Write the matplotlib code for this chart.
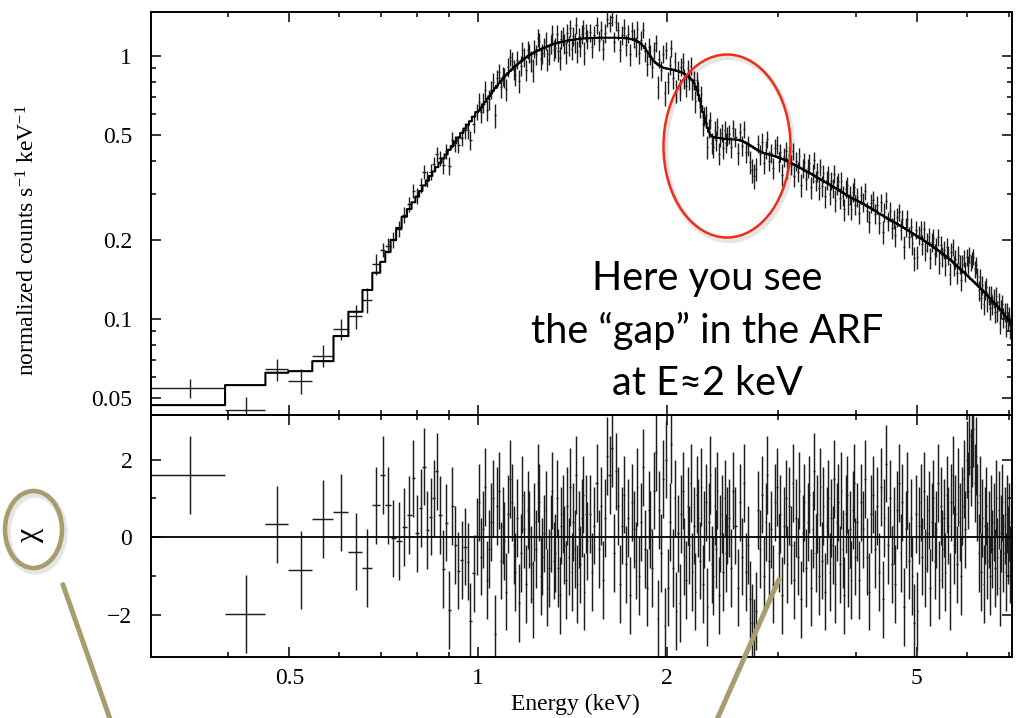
import numpy as np
import matplotlib
matplotlib.use('Agg')
import matplotlib.pyplot as plt
from matplotlib.patches import Ellipse, FancyArrowPatch
from matplotlib.ticker import FixedLocator, FixedFormatter, NullFormatter

W, H = 1016, 718  # figure size in pixels (dpi 100)

# --- low energy bins (wide, below 1 keV): edges, model and residuals ---
low_edges = [0.300, 0.395, 0.458, 0.498, 0.544, 0.588, 0.621, 0.654, 0.678, 0.698,
             0.711, 0.725, 0.740, 0.755, 0.770, 0.783, 0.794, 0.805, 0.815, 0.825,
             0.835, 0.845, 0.854, 0.864, 0.874, 0.884, 0.894, 0.904, 0.914, 0.924,
             0.936, 0.947, 0.958, 0.967, 0.977, 0.989, 1.000]
low_model = [0.0471, 0.0561, 0.0625, 0.0634, 0.0692, 0.0862, 0.1066, 0.129, 0.150, 0.165,
             0.180, 0.200, 0.222, 0.245, 0.262, 0.278, 0.292, 0.307, 0.322, 0.336,
             0.350, 0.364, 0.378, 0.393, 0.408, 0.423, 0.440, 0.455, 0.472, 0.490,
             0.510, 0.530, 0.548, 0.565, 0.588, 0.612]
low_chi = [1.60, -1.98, 0.33, -0.84, 0.47, 0.64, -0.37, -0.80, 0.82, 1.60,
           0.82, -0.03, -0.09, 0.26, 0.58, 1.52, 0.10, 0.75, 1.82, 0.19,
           0.53, 1.00, 1.70, 0.58, -0.82, 0.38, -1.87, 0.81, -0.20, -0.86,
           -0.58, -0.24, -0.63, -2.17, -0.93, 0.02]
rel_err_wide = 0.10    # relative error of the widest bins (< 0.7 keV)
rel_err_mid = 0.07     # 0.7 - 1 keV
rel_err_dense = 0.085  # above 1 keV

# --- dense bins above 1 keV (centres, model, residuals) ---
hi_E = [1.004, 1.011, 1.019, 1.026, 1.034, 1.041, 1.049, 1.056, 1.064, 1.071,
        1.079, 1.086, 1.094, 1.101, 1.109, 1.116, 1.124, 1.131, 1.139, 1.146,
        1.154, 1.161, 1.169, 1.176, 1.184, 1.191, 1.199, 1.206, 1.214, 1.221,
        1.229, 1.236, 1.244, 1.251, 1.259, 1.266, 1.274, 1.281, 1.289, 1.296,
        1.304, 1.311, 1.319, 1.326, 1.334, 1.341, 1.349, 1.356, 1.364, 1.371,
        1.379, 1.386, 1.394, 1.401, 1.409, 1.416, 1.424, 1.431, 1.439, 1.446,
        1.454, 1.461, 1.469, 1.476, 1.484, 1.491,
        1.506, 1.519, 1.531, 1.544, 1.556, 1.569, 1.581, 1.594, 1.606, 1.619,
        1.631, 1.644, 1.656, 1.669, 1.681, 1.694, 1.706, 1.719, 1.731, 1.744,
        1.756, 1.769, 1.781, 1.794, 1.806, 1.819, 1.831, 1.844, 1.856, 1.869,
        1.881, 1.894, 1.906, 1.919, 1.931, 1.944, 1.956, 1.969, 1.981, 1.994,
        2.006, 2.019, 2.031, 2.044, 2.056, 2.069, 2.081, 2.094, 2.106, 2.119,
        2.131, 2.144, 2.156, 2.169, 2.181, 2.194, 2.206, 2.219, 2.231, 2.244,
        2.256, 2.269, 2.281, 2.294, 2.306, 2.319, 2.331, 2.344, 2.356, 2.369,
        2.381, 2.394, 2.406, 2.419, 2.431, 2.444, 2.456, 2.469, 2.481, 2.494,
        2.51, 2.53, 2.55, 2.57, 2.59, 2.61, 2.63, 2.65, 2.67, 2.69,
        2.71, 2.73, 2.75, 2.77, 2.79, 2.81, 2.83, 2.85, 2.87, 2.89,
        2.91, 2.93, 2.95, 2.97, 2.99, 3.01, 3.03, 3.05, 3.07, 3.09,
        3.11, 3.13, 3.15, 3.17, 3.19, 3.21, 3.23, 3.25, 3.27, 3.29,
        3.31, 3.33, 3.35, 3.37, 3.39, 3.41, 3.43, 3.45, 3.47, 3.49,
        3.51, 3.53, 3.55, 3.57, 3.59, 3.61, 3.63, 3.65, 3.67, 3.69,
        3.71, 3.73, 3.75, 3.77, 3.79, 3.81, 3.83, 3.85, 3.87, 3.89,
        3.91, 3.93, 3.95, 3.97, 3.99,
        4.02, 4.05, 4.08, 4.11, 4.14, 4.17, 4.20, 4.23, 4.26, 4.29,
        4.32, 4.35, 4.38, 4.41, 4.44, 4.47, 4.50, 4.53, 4.56, 4.59,
        4.62, 4.65, 4.68, 4.71, 4.74, 4.77, 4.80, 4.83, 4.86, 4.89,
        4.92, 4.95, 4.98, 5.01, 5.04, 5.07, 5.10, 5.13, 5.16, 5.19,
        5.22, 5.25, 5.28, 5.31, 5.34, 5.37, 5.40, 5.43, 5.46, 5.49,
        5.52, 5.55, 5.58, 5.61, 5.64, 5.67, 5.70, 5.73, 5.76, 5.79,
        5.82, 5.85, 5.88, 5.91, 5.94, 5.97, 6.00, 6.03, 6.06, 6.09,
        6.12, 6.15, 6.18, 6.21, 6.24, 6.27, 6.30, 6.33, 6.36, 6.39,
        6.42, 6.45, 6.48, 6.51, 6.54, 6.57, 6.60, 6.63, 6.66, 6.69,
        6.72, 6.75, 6.78, 6.81, 6.84, 6.87, 6.90, 6.93, 6.96, 6.99,
        7.02, 7.05, 7.08]
hi_model = [0.621, 0.637, 0.654, 0.670, 0.688, 0.703, 0.721, 0.737, 0.755, 0.770,
            0.787, 0.803, 0.820, 0.835, 0.849, 0.862, 0.877, 0.890, 0.904, 0.916,
            0.929, 0.940, 0.952, 0.963, 0.975, 0.986, 0.997, 1.007, 1.016, 1.024,
            1.032, 1.040, 1.048, 1.055, 1.062, 1.069, 1.075, 1.081, 1.087, 1.093,
            1.100, 1.105, 1.110, 1.114, 1.119, 1.123, 1.127, 1.131, 1.134, 1.137,
            1.140, 1.143, 1.146, 1.149, 1.151, 1.153, 1.155, 1.157, 1.159, 1.160,
            1.162, 1.163, 1.165, 1.166, 1.168, 1.169,
            1.170, 1.171, 1.172, 1.173, 1.174, 1.175, 1.175, 1.175, 1.175, 1.175,
            1.175, 1.175, 1.174, 1.173, 1.172, 1.171, 1.170, 1.168, 1.166, 1.162,
            1.158, 1.153, 1.145, 1.136, 1.125, 1.110, 1.092, 1.070, 1.045, 1.020,
            0.995, 0.972, 0.955, 0.942, 0.930, 0.920, 0.912, 0.905, 0.900, 0.897,
            0.894, 0.892, 0.889, 0.886, 0.883, 0.879, 0.876, 0.872, 0.868, 0.862,
            0.855, 0.848, 0.840, 0.830, 0.820, 0.808, 0.790, 0.765, 0.740, 0.710,
            0.675, 0.645, 0.612, 0.582, 0.556, 0.533, 0.515, 0.502, 0.495, 0.492,
            0.490, 0.490, 0.489, 0.488, 0.487, 0.486, 0.485, 0.484, 0.484, 0.483,
            0.483, 0.482, 0.482, 0.481, 0.480, 0.478, 0.476, 0.472, 0.468, 0.463,
            0.458, 0.453, 0.448, 0.443, 0.438, 0.434, 0.431, 0.428, 0.426, 0.424,
            0.422, 0.420, 0.418, 0.416, 0.414, 0.411, 0.409, 0.406, 0.404, 0.401,
            0.398, 0.395, 0.392, 0.389, 0.386, 0.383, 0.380, 0.377, 0.374, 0.371,
            0.368, 0.365, 0.362, 0.359, 0.357, 0.354, 0.351, 0.348, 0.345, 0.343,
            0.340, 0.337, 0.335, 0.332, 0.330, 0.327, 0.325, 0.322, 0.320, 0.317,
            0.315, 0.312, 0.310, 0.307, 0.305, 0.302, 0.300, 0.298, 0.295, 0.293,
            0.291, 0.289, 0.287, 0.285, 0.284,
            0.282, 0.279, 0.276, 0.274, 0.271, 0.268, 0.266, 0.263, 0.260, 0.258,
            0.255, 0.252, 0.250, 0.248, 0.245, 0.243, 0.240, 0.238, 0.236, 0.234,
            0.232, 0.230, 0.228, 0.226, 0.224, 0.222, 0.220, 0.218, 0.216, 0.214,
            0.212, 0.210, 0.208, 0.206, 0.204, 0.203, 0.201, 0.199, 0.197, 0.195,
            0.194, 0.192, 0.190, 0.188, 0.186, 0.185, 0.183, 0.181, 0.179, 0.178,
            0.176, 0.174, 0.172, 0.170, 0.169, 0.167, 0.165, 0.163, 0.161, 0.159,
            0.158, 0.156, 0.154, 0.152, 0.151, 0.149, 0.147, 0.146, 0.144, 0.142,
            0.141, 0.139, 0.138, 0.136, 0.135, 0.133, 0.132, 0.130, 0.129, 0.127,
            0.126, 0.124, 0.123, 0.121, 0.120, 0.118, 0.117, 0.116, 0.114, 0.113,
            0.112, 0.110, 0.109, 0.108, 0.106, 0.105, 0.104, 0.102, 0.101, 0.100,
            0.099, 0.098, 0.097]
hi_chi = [0.9, -0.5, 0.2, 1.3, -1.1, -0.3, 0.4, 1.0, -2.5, 0.8,
          1.2, -0.6, 0.3, -0.1, -1.4, 0.6, 1.5, 0.9, -0.2, -0.9,
          0.5, -1.7, -0.4, 1.1, 0.2, -1.2, 0.7, 0.2, -0.7, -1.6,
          0.4, -0.3, 1.4, 0.9, -1.0, -0.5, 0.1, 0.7, -1.3, -0.8,
          0.1, 1.2, -0.6, -0.4, 1.0, -0.8, -1.5, 0.3, 0.6, -0.2,
          -1.1, 0.8, -0.5, 1.3, -0.9, 0.4, -0.3, 1.6, -1.2, 0.2,
          -0.7, 0.5, 1.1, -1.4, 0.6, -0.1,
          0.6, -0.9, 0.3, 1.4, -0.3, 0.8, -1.1, 0.5, 2.1, 1.6,
          2.3, -0.4, 1.7, 0.8, -1.2, 0.3, 1.1, -0.7, 0.5, -1.5,
          0.9, 0.2, -0.6, 1.3, -1.0, 0.4, 1.8, -0.3, -1.3, 0.7,
          0.2, -0.8, 1.2, 2.2, -2.1, 0.7, -0.4, 1.5, -2.3, 2.0,
          -1.3, 0.4, 2.4, -0.8, 1.0, -1.9, 0.1, -1.7, 0.6, 1.2,
          -0.5, -1.1, 0.8, -0.2, 1.4, -0.9, 0.3, -1.4, 1.1, 0.5,
          -0.6, 1.3, -1.2, 0.2, 0.9, -1.8, 0.4, 1.6, -0.7, -1.0,
          0.8, -0.3, 1.2, -1.5, 0.1, 0.6, -0.9, 1.0, -0.4, 0.3,
          0.5, -0.8, 1.2, 0.3, -1.3, 0.9, -0.5, 1.4, -0.9, -0.2,
          -1.6, -2.2, -2.6, -1.9, 0.7, -0.3, 1.1, -1.0, 0.4, 1.6,
          -0.6, 0.2, -1.2, 0.9, 1.3, -0.4, 0.6, -1.5, 0.3, 1.0,
          -0.7, 0.8, -0.2, 1.4, -1.1, 0.5, -0.5, 1.2, -1.6, 0.1,
          0.9, -0.8, 0.4, 1.1, -1.3, 0.2, 1.7, -0.4, 0.6, -1.0,
          1.3, -0.6, 0.8, -1.4, 0.3, 1.0, -0.9, 0.5, -0.2, 1.5,
          -1.2, 0.4, 0.9, -0.7, 1.2, -0.3, -1.5, 0.6, 1.1, -0.8,
          0.2, -1.1, 0.7, 1.4, -0.5,
          0.4, -1.1, 0.9, 0.2, 1.5, -0.5, -1.4, 0.6, 1.1, -0.3,
          0.8, -0.9, 1.3, -1.6, 0.5, 1.9, -0.2, 1.0, -0.7, 0.3,
          -1.2, 0.7, 1.4, -0.4, 0.9, -1.8, 0.2, 1.2, -0.6, 0.5,
          -1.0, -2.2, 0.6, -1.9, 0.3, 0.9, -0.5, 1.2, -0.8, 0.1,
          0.7, -1.3, 0.4, 1.0, -0.6, 0.2, 1.4, -1.1, 0.8, -0.3,
          0.5, -0.9, 1.1, 0.3, -1.4, 0.9, 1.6, -0.2, 0.6, -0.7,
          1.3, 0.4, -1.0, 0.8, 1.5, 0.2, 2.0, 1.2, 2.6, 1.8,
          2.3, 2.8, 1.4, 2.1, 0.9, -0.4, 1.1, -0.9, 0.5, -1.2,
          0.3, 0.8, -0.6, 0.2, -1.0, 0.6, -0.3, 0.4, -0.8, 1.0,
          -0.5, 0.7, -1.3, 0.1, 0.9, -0.4, 0.3, -0.9, 0.6, -0.2,
          0.4, -0.7, 0.2]

x_major = [0.5, 1, 2, 5]
x_minor = [0.4, 0.6, 0.7, 0.8, 0.9, 3, 4, 6, 7]
y_major = [0.05, 0.1, 0.2, 0.5, 1]
y_minor = [0.06, 0.07, 0.08, 0.09, 0.3, 0.4, 0.6, 0.7, 0.8, 0.9]
r_major = [-2, 0, 2]
r_minor = [-1, 1]

# --- put the bins together ---
low_edges = np.array(low_edges)
low_E = (low_edges[:-1] + low_edges[1:]) / 2
low_dE = (low_edges[1:] - low_edges[:-1]) / 2
hi_E = np.array(hi_E)
hi_edges = np.concatenate([[low_edges[-1]], (hi_E[:-1] + hi_E[1:]) / 2,
                           [hi_E[-1] + (hi_E[-1] - hi_E[-2]) / 2]])
hi_dE = (hi_edges[1:] - hi_edges[:-1]) / 2

E = np.concatenate([low_E, hi_E])
dE = np.concatenate([low_dE, hi_dE])
model = np.concatenate([low_model, hi_model])
chi = np.concatenate([low_chi, hi_chi])
rel = np.concatenate([np.where(low_E < 0.7, rel_err_wide, rel_err_mid),
                      np.full(len(hi_E), rel_err_dense)])
sigma = rel * model
data = model + chi * sigma

# --- fonts ---
plt.rcParams['font.family'] = ['Liberation Serif', 'DejaVu Serif']
plt.rcParams['mathtext.fontset'] = 'custom'
plt.rcParams['mathtext.rm'] = 'Liberation Serif'
plt.rcParams['mathtext.it'] = 'Liberation Serif:italic'
plt.rcParams['axes.linewidth'] = 1.4

fig = plt.figure(figsize=(W / 100, H / 100), dpi=100)
fig.patch.set_facecolor('white')

left, right = 151, 1012
top1, mid, bot2 = 12, 414.7, 656.7
ax1 = fig.add_axes([left / W, 1 - mid / H, (right - left) / W, (mid - top1) / H])
ax2 = fig.add_axes([left / W, 1 - bot2 / H, (right - left) / W, (bot2 - mid) / H])

# spectrum + model
ax1.errorbar(E, data, xerr=dE, yerr=sigma, fmt='none', ecolor='#1e1e1e',
             elinewidth=1.0, capsize=0, zorder=2)
step_x = np.column_stack([E - dE, E + dE]).ravel()
step_y = np.repeat(model, 2)
ax1.plot(step_x, step_y, color='black', lw=1.5, zorder=3)

# residuals
ax2.errorbar(E, chi, xerr=dE, yerr=np.ones_like(chi), fmt='none', ecolor='#1e1e1e',
             elinewidth=1.05, capsize=0, zorder=2)
ax2.axhline(0, color='black', lw=1.3, zorder=3)

for ax in (ax1, ax2):
    ax.set_xscale('log')
    ax.set_xlim(0.301, 7.09)
    ax.xaxis.set_major_locator(FixedLocator(x_major))
    ax.xaxis.set_minor_locator(FixedLocator(x_minor))
    ax.xaxis.set_minor_formatter(NullFormatter())
    ax.tick_params(which='both', direction='in', top=True, right=True, labelsize=17)
    ax.tick_params(which='major', length=7.5, width=1.1)
    ax.tick_params(which='minor', length=3.8, width=1.1)
    ax.tick_params(axis='y', pad=13.5)
    ax.tick_params(axis='x', pad=8)

ax1.set_yscale('log')
ax1.set_ylim(0.0433, 1.47)
ax1.yaxis.set_major_locator(FixedLocator(y_major))
ax1.yaxis.set_major_formatter(FixedFormatter(['0.05', '0.1', '0.2', '0.5', '1']))
ax1.yaxis.set_minor_locator(FixedLocator(y_minor))
ax1.yaxis.set_minor_formatter(NullFormatter())
ax1.xaxis.set_major_formatter(NullFormatter())

ax2.set_ylim(-3.08, 3.16)
ax2.yaxis.set_major_locator(FixedLocator(r_major))
ax2.yaxis.set_major_formatter(FixedFormatter(['\u22122', '0', '2']))
ax2.yaxis.set_minor_locator(FixedLocator(r_minor))
ax2.xaxis.set_major_formatter(FixedFormatter(['0.5', '1', '2', '5']))

# axis labels
fig.text(28 / W, 1 - 240 / H, r'normalized counts s$^{-1}$ keV$^{-1}$', rotation=90,
         ha='center', va='center', fontsize=17)
fig.text(30 / W, 1 - 535 / H, '\u03c7', rotation=90, ha='center', va='center', fontsize=23)
fig.text(575 / W, 1 - 704 / H, 'Energy (keV)', ha='center', va='center', fontsize=17)

# annotation text
note = ['Here you see', 'the \u201cgap\u201d in the ARF', 'at E\u22482 keV']
for i, line in enumerate(note):
    fig.text(707 / W, 1 - (290 + 52.5 * i) / H, line, ha='center', va='baseline',
             fontsize=28.5, family=['Lato', 'DejaVu Sans'], color='black')


def fig_ellipse(cx, cy, w, h, color, lw, shadow=True):
    if shadow:
        fig.add_artist(Ellipse(((cx + 2) / W, 1 - (cy + 3) / H), w / W, h / H,
                               transform=fig.transFigure, fill=False,
                               ec=(0, 0, 0, 0.10), lw=lw + 2))
    fig.add_artist(Ellipse((cx / W, 1 - cy / H), w / W, h / H,
                           transform=fig.transFigure, fill=False, ec=color, lw=lw))


fig_ellipse(727, 146, 127, 183, '#ef2d1a', 1.8)
fig_ellipse(33.5, 529.5, 57, 77, '#a99d70', 3.3)

# olive arrows leaving the picture at the bottom
for (x0, y0), (x1, y1) in [((62, 582), (130, 776)), ((780, 577), (692, 776))]:
    fig.add_artist(FancyArrowPatch((x0 / W, 1 - y0 / H), (x1 / W, 1 - y1 / H),
                                   transform=fig.transFigure,
                                   arrowstyle='-|>,head_length=3.0,head_width=1.6',
                                   mutation_scale=10, color='#a99d70', lw=3.6))

fig.savefig('out.png', dpi=100, facecolor='white')
